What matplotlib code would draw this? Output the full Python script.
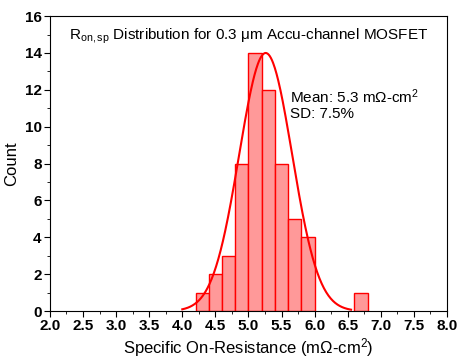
import numpy as np
import matplotlib.pyplot as plt
from matplotlib.ticker import MultipleLocator

plt.rcParams['font.family'] = ['Liberation Sans', 'DejaVu Sans']
plt.rcParams['mathtext.fontset'] = 'custom'
plt.rcParams['mathtext.rm'] = 'Liberation Sans'
plt.rcParams['mathtext.it'] = 'Liberation Sans:italic'

# histogram bins (left edges, width 0.2) and counts
bin_left = [4.2, 4.4, 4.6, 4.8, 5.0, 5.2, 5.4, 5.6, 5.8, 6.6]
counts = [1, 2, 3, 8, 14, 12, 8, 5, 4, 1]
bin_width = 0.2

# normal fit parameters
fit_mean = 5.26
fit_sd = 0.40
fit_peak = 14.0
fit_range = (4.0, 6.55)

fig = plt.figure(figsize=(4.58, 3.58), dpi=100)
ax = fig.add_axes([0.109, 0.131, 0.867, 0.824])

ax.bar(bin_left, counts, width=bin_width, align='edge',
       color='#ff9999', edgecolor='red', linewidth=1.0)

xf = np.linspace(fit_range[0], fit_range[1], 300)
yf = fit_peak * np.exp(-0.5 * ((xf - fit_mean) / fit_sd) ** 2)
ax.plot(xf, yf, color='red', linewidth=1.5)

ax.set_xlim(2.0, 8.0)
ax.set_ylim(0, 16)
ax.xaxis.set_major_locator(MultipleLocator(0.5))
ax.xaxis.set_minor_locator(MultipleLocator(0.25))
ax.yaxis.set_major_locator(MultipleLocator(2))
ax.yaxis.set_minor_locator(MultipleLocator(1))
ax.tick_params(which='both', direction='out')
ax.tick_params(which='major', length=4, labelsize=11, pad=2)
ax.tick_params(which='minor', length=2)
ax.xaxis.set_major_formatter(plt.FormatStrFormatter('%.1f'))
for lab in ax.get_xticklabels() + ax.get_yticklabels():
    lab.set_fontweight('bold')

ax.set_xlabel('Specific On-Resistance (m$\\Omega$-cm$^2$)', fontsize=12, labelpad=2)
ax.set_ylabel('Count', fontsize=12, labelpad=4)

ax.text(0.5, 0.965, 'R$_{\\mathrm{on,sp}}$ Distribution for 0.3 μm Accu-channel MOSFET',
        transform=ax.transAxes, ha='center', va='top', fontsize=11)
ax.text(0.605, 0.76, 'Mean: 5.3 m$\\Omega$-cm$^2$\nSD: 7.5%',
        transform=ax.transAxes, ha='left', va='top', fontsize=11, linespacing=1.15)

fig.savefig('out.png', dpi=100)
